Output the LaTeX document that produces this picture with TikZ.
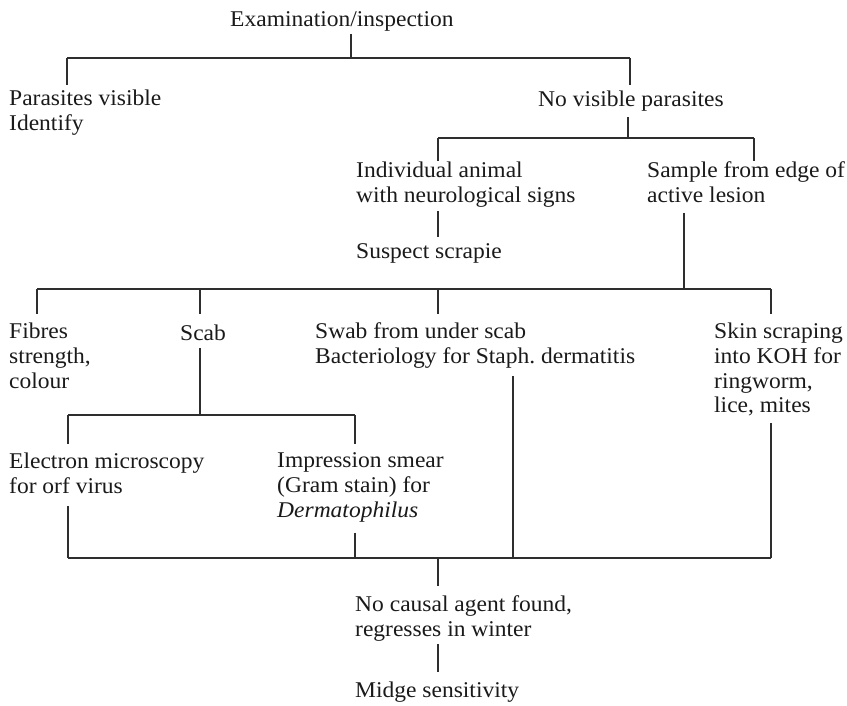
\documentclass[tikz,border=0pt]{standalone}
\usepackage{fontspec}
\setmainfont{Liberation Serif}[FakeStretch=1.045]
\frenchspacing
\definecolor{ink}{HTML}{1A1A1A}
\definecolor{rule}{HTML}{2E2E2E}
\tikzset{
  lbl/.style={anchor=north west, inner sep=0pt, align=left, yshift=17.36pt,
    text=ink, font=\fontsize{22.5}{24.8}\selectfont,
    execute at begin node=\strut, execute at end node=\strut},
  link/.style={draw=rule, line width=1.2pt, line cap=butt}
}
\begin{document}
\begin{tikzpicture}[x=1pt,y=-1pt]
\fill[white] (0,0) rectangle (847,705);
\useasboundingbox (0,0) rectangle (847,705);

% ---- labels (placed at the baseline of their first line)
\node[lbl] (exam)  at (230,26)  {Examination/inspection};
\node[lbl] (par)   at (9,107)   {Parasites visible\\Identify};
\node[lbl] (nv)    at (538,106) {No visible parasites};
\node[lbl] (ind)   at (356,179) {Individual animal\\with neurological signs};
\node[lbl] (sam)   at (647,179) {Sample from edge of\\active lesion};
\node[lbl] (scr)   at (356,258) {Suspect scrapie};
\node[lbl] (fib)   at (9,340)   {Fibres\\strength,\\colour};
\node[lbl] (scab)  at (180,340) {Scab};
\node[lbl] (swab)  at (315,340) {Swab from under scab\\Bacteriology for Staph. dermatitis};
\node[lbl] (skin)  at (714,340) {Skin scraping\\into KOH for\\ringworm,\\lice, mites};
\node[lbl] (em)    at (9,470)   {Electron microscopy\\for orf virus};
\node[lbl] (imp)   at (277,470) {Impression smear\\(Gram stain) for\\\textit{Dermatophilus}};
\node[lbl] (nca)   at (355,613) {No causal agent found,\\regresses in winter};
\node[lbl] (midge) at (355,697) {Midge sensitivity};

% ---- junction points of the horizontal bars
\coordinate (a0) at (351,58);  \coordinate (aL) at (67,58);   \coordinate (aR) at (630,58);
\coordinate (b0) at (628,138); \coordinate (bL) at (438,138); \coordinate (bR) at (754,138);
\coordinate (c0) at (684,289); \coordinate (c1) at (37,289);  \coordinate (c2) at (200,289);
\coordinate (c3) at (438,289); \coordinate (c4) at (771,289);
\coordinate (d0) at (200,415); \coordinate (dL) at (68,415);  \coordinate (dR) at (355,415);
\coordinate (e1) at (68,558);  \coordinate (e2) at (355,558); \coordinate (e3) at (513,558);
\coordinate (e4) at (771,558); \coordinate (e0) at (438,558);
\coordinate (f0) at (438,645);

% ---- top level
\draw[link] (exam.south -| a0) -- (a0);
\draw[link] (aL) -- (aR);
\draw[link, shorten >=4.6pt] (aL) -- (aL |- par.north);
\draw[link, shorten >=3.6pt] (aR) -- (aR |- nv.north);

% ---- no visible parasites
\draw[link, shorten <=3.6pt] (nv.south -| b0) -- (b0);
\draw[link] (bL) -- (bR);
\draw[link, shorten >=0.6pt] (bL) -- (bL |- ind.north);
\draw[link, shorten >=0.6pt] (bR) -- (bR |- sam.north);
\draw[link, shorten <=1.6pt, shorten >=3.6pt] (ind.south -| bL) -- (bL |- scr.north);

% ---- sample from lesion
\draw[link, shorten <=2.6pt] (sam.south -| c0) -- (c0);
\draw[link] (c1) -- (c4);
\draw[link, shorten >=8.6pt] (c1) -- (c1 |- fib.north);
\draw[link, shorten >=8.6pt] (c2) -- (c2 |- scab.north);
\draw[link, shorten >=8.6pt] (c3) -- (c3 |- swab.north);
\draw[link, shorten >=8.6pt] (c4) -- (c4 |- skin.north);

% ---- scab
\draw[link] (scab.south -| d0) -- (d0);
\draw[link] (dL) -- (dR);
\draw[link, shorten >=8.6pt] (dL) -- (dL |- em.north);
\draw[link, shorten >=8.6pt] (dR) -- (dR |- imp.north);

% ---- gathering bar
\draw[link, shorten <=5pt] (em.south -| e1) -- (e1);
\draw[link, shorten <=8pt] (imp.south -| e2) -- (e2);
\draw[link, shorten <=4.8pt] (swab.south -| e3) -- (e3);
\draw[link, shorten <=3pt] (skin.south -| e4) -- (e4);
\draw[link] (e1) -- (e4);
\draw[link, shorten >=9.6pt] (e0) -- (e0 |- nca.north);
\draw[link, shorten >=7.6pt] (nca.south -| f0) -- (f0 |- midge.north);
\end{tikzpicture}
\end{document}
